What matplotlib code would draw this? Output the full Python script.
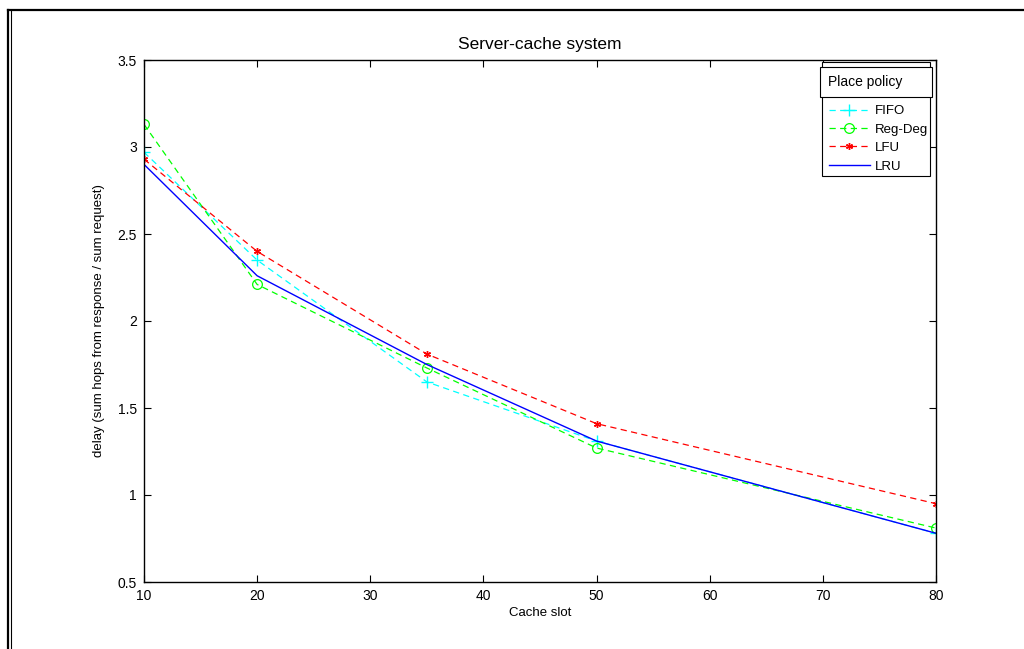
import matplotlib
matplotlib.use("Agg")
import matplotlib.pyplot as plt
from matplotlib.lines import Line2D
from matplotlib.patches import Rectangle

plt.rcParams['font.family'] = ['Liberation Sans', 'DejaVu Sans']

cache_slots = [10, 20, 35, 50, 80]
fifo = [2.97, 2.35, 1.65, 1.31, 0.78]
reg_deg = [3.13, 2.21, 1.73, 1.27, 0.81]
lfu = [2.93, 2.40, 1.81, 1.41, 0.95]
lru = [2.90, 2.26, 1.75, 1.31, 0.78]
x_ticks = [10, 20, 30, 40, 50, 60, 70, 80]
y_ticks = [0.5, 1, 1.5, 2, 2.5, 3, 3.5]

fig = plt.figure(figsize=(10.24, 6.49), dpi=100)
ax = fig.add_axes([144/1024, 1-582/649, 792/1024, 522/649])

dash = (0, (5, 3.5))
ax.plot(cache_slots, fifo, color='#00ffff', linestyle=dash, lw=0.9, marker='+', ms=8, mew=1.0, label='FIFO')
ax.plot(cache_slots, reg_deg, color='#00ff00', linestyle=dash, lw=0.9, marker='o', ms=7, mfc='none', mew=0.9, label='Reg-Deg')
ax.plot(cache_slots, lfu, color='#ff0000', linestyle=dash, lw=0.9, marker=(6, 2, 0), ms=5, mew=1.0, label='LFU')
ax.plot(cache_slots, lru, color='#0000ff', linestyle='-', lw=1.0, label='LRU')

ax.set_xlim(10, 80)
ax.set_ylim(0.5, 3.5)
ax.set_xticks(x_ticks)
ax.set_xticklabels([str(v) for v in x_ticks])
ax.set_yticks(y_ticks)
ax.set_yticklabels(['0.5', '1', '1.5', '2', '2.5', '3', '3.5'])
ax.tick_params(axis='both', direction='in', top=True, right=True, length=5, width=0.8, labelsize=10)
ax.tick_params(axis='x', pad=5)
ax.tick_params(axis='y', pad=5)
for s in ax.spines.values():
    s.set_linewidth(1.0)

ax.set_title('Server-cache system', fontsize=12.5, pad=8)
ax.set_xlabel('Cache slot', fontsize=9.5, labelpad=3)
ax.set_ylabel('delay (sum hops from response / sum request)', fontsize=9.5, labelpad=9)

# outer legend box and title box
fig.add_artist(Rectangle((822/1024, 1-176/649), 108/1024, 114/649, transform=fig.transFigure,
                         facecolor='white', edgecolor='black', lw=0.8, zorder=1))
fig.add_artist(Rectangle((820/1024, 1-97/649), 112/1024, 30/649, transform=fig.transFigure,
                         facecolor='white', edgecolor='black', lw=0.8, zorder=5))
fig.text(828/1024, 1-82/649, 'Place policy', fontsize=10, va='center', ha='left', zorder=6)

# legend entries
handles, labels = ax.get_legend_handles_labels()
leg = fig.legend(handles, labels, loc='upper left', bbox_to_anchor=(829/1024, 1-105/649),
                 fontsize=9.5, frameon=False,
                 borderpad=0.0, labelspacing=0.47, handlelength=3.1, handletextpad=0.4,
                 borderaxespad=0)
leg.set_zorder(7)

# figure border lines
fig.add_artist(Line2D([8/1024, 8/1024], [0, 1-10/649], transform=fig.transFigure, color='black', lw=1.6))
fig.add_artist(Line2D([11/1024, 11/1024], [0, 1-11/649], transform=fig.transFigure, color='black', lw=0.8))
fig.add_artist(Line2D([8/1024, 1], [1-10/649, 1-10/649], transform=fig.transFigure, color='black', lw=1.6))

fig.savefig('out.png', dpi=100)
